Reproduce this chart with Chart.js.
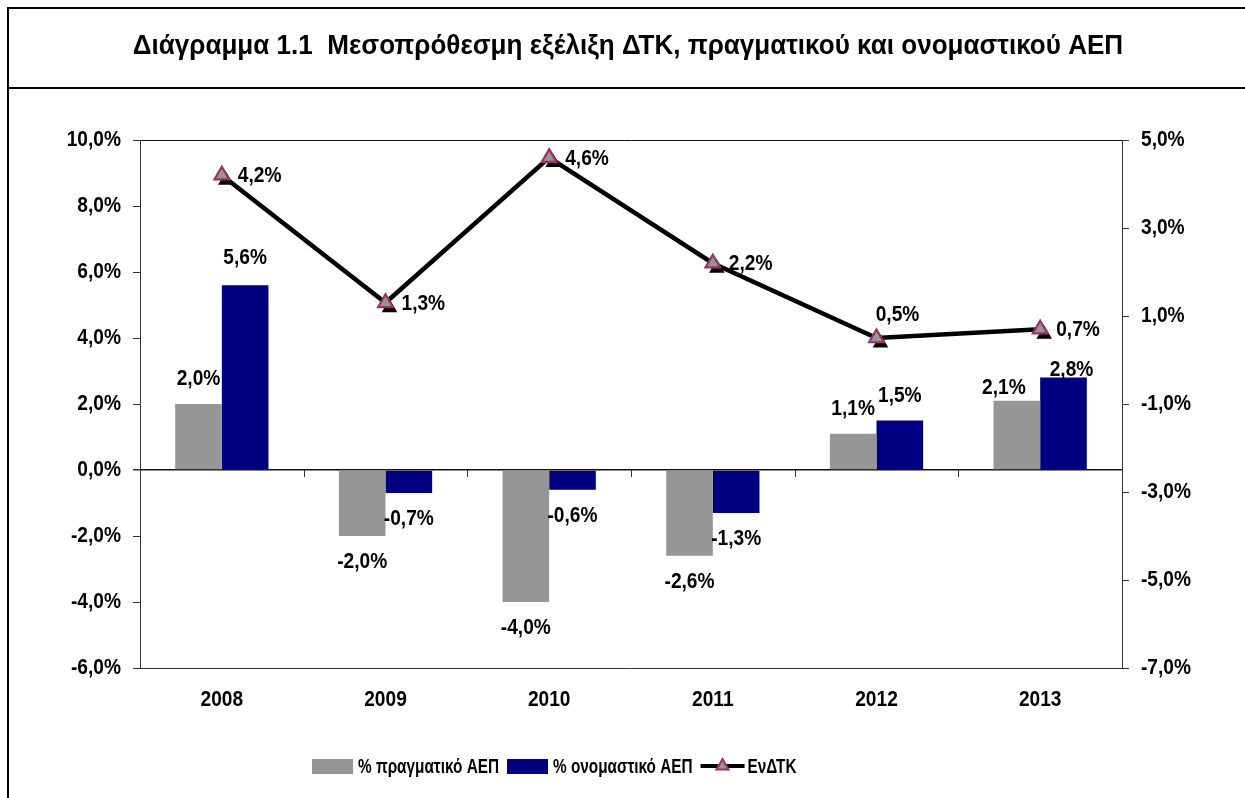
<!DOCTYPE html>
<html><head><meta charset="utf-8">
<script src="https://cdn.jsdelivr.net/npm/chart.js@4.4.1/dist/chart.umd.min.js"></script>
<style>
html,body{margin:0;padding:0;background:#fff;overflow:hidden}
#wrap{position:relative;width:1245px;height:798px}
canvas{position:absolute;left:0;top:0}
</style></head><body>
<div id="wrap"><canvas id="c" width="1245" height="798"></canvas></div>
<script>
// ---- data ----
const categories = ['2008', '2009', '2010', '2011', '2012', '2013'];
const realGDP = [2.0, -2.0, -4.0, -2.6, 1.1, 2.1];
const nominalGDP = [5.6, -0.7, -0.6, -1.3, 1.5, 2.8];
const hicp = [4.2, 1.3, 4.6, 2.2, 0.5, 0.7];
const leftTicks = [-6, -4, -2, 0, 2, 4, 6, 8, 10];
const rightTicks = [-7, -5, -3, -1, 1, 3, 5];
const seriesNames = ['% πραγματικό ΑΕΠ', '% ονομαστικό ΑΕΠ', 'ΕνΔΤΚ'];
const titleText = 'Διάγραμμα 1.1  Μεσοπρόθεσμη εξέλιξη ΔΤΚ, πραγματικού και ονομαστικού ΑΕΠ';

// ---- styles ----
const FAMILY = "'Liberation Sans','Arimo','DejaVu Sans Condensed',sans-serif";
const NARROW = 0.87;  // horizontal squeeze for axis / value text
const GRAY = '#969696', NAVY = '#000080', PURPLE = '#993366', AXIS = '#333333';
const fmt = v => v.toFixed(1).replace('.', ',') + '%';
// label nudges (style only): [dx, dy]
const realLabelNudge = [[0,0],[0,0],[0,0],[0,0],[0,0],[-13,12]];
const nomLabelNudge  = [[0,-2],[0,0],[0,0],[0,0],[0,0],[8,17]];
const lineLabelPlace = ['right','right','right','right','above','right'];

// condensed text rendering (emulates a narrow typeface)
(function () {
  const P = CanvasRenderingContext2D.prototype;
  const of = P.fillText, om = P.measureText;
  P.fillText = function (t, x, y, mw) {
    const s = this.__xs || NARROW;
    this.save();
    this.translate(x, y);
    this.scale(s, 1);
    of.call(this, t, 0, 0);
    this.restore();
  };
  P.measureText = function (t) {
    const m = om.call(this, t);
    const s = this.__xs || NARROW;
    return new Proxy(m, { get: (o, k) => k === 'width' ? o.width * s : (typeof o[k] === 'function' ? o[k].bind(o) : o[k]) });
  };
})();

function tri(ctx, x, y, r) {
  ctx.beginPath();
  for (let k = 0; k < 3; k++) {
    const a = k * 2 * Math.PI / 3;
    const px = x + Math.sin(a) * r, py = y - Math.cos(a) * r;
    if (k === 0) ctx.moveTo(px, py); else ctx.lineTo(px, py);
  }
  ctx.closePath();
}
function marker(ctx, x, y) {
  ctx.save();
  ctx.fillStyle = '#000';
  tri(ctx, x + 4, y + 5, 9); ctx.fill();
  ctx.fillStyle = GRAY; ctx.strokeStyle = PURPLE; ctx.lineWidth = 2.2;
  tri(ctx, x, y, 8.5); ctx.fill(); ctx.stroke();
  ctx.restore();
}

const decor = {
  id: 'decor',
  afterDatasetsDraw(chart) {
    const ctx = chart.ctx;
    const xs = chart.scales.x, ys = chart.scales.y;
    const y0 = ys.getPixelForValue(0);
    ctx.save();
    ctx.strokeStyle = AXIS; ctx.lineWidth = 1;
    const step = (xs.right - xs.left) / categories.length;
    for (let i = 0; i <= categories.length; i++) {
      const x = Math.round(xs.left + i * step) + 0.5;
      ctx.beginPath(); ctx.moveTo(x, y0); ctx.lineTo(x, y0 + 7); ctx.stroke();
    }
    const lm = chart.getDatasetMeta(0);
    lm.data.forEach(p => marker(ctx, p.x, p.y));
    ctx.font = `bold 22px ${FAMILY}`;
    ctx.fillStyle = '#000';
    ctx.textBaseline = 'middle';
    [[1, realGDP, realLabelNudge], [2, nominalGDP, nomLabelNudge]].forEach(([di, vals, nudge]) => {
      const meta = chart.getDatasetMeta(di);
      ctx.textAlign = 'center';
      meta.data.forEach((b, i) => {
        const v = vals[i];
        const yy = v >= 0 ? b.y - 25 : b.y + 26;
        ctx.fillText(fmt(v), b.x + nudge[i][0], yy + nudge[i][1]);
      });
    });
    lm.data.forEach((p, i) => {
      if (lineLabelPlace[i] === 'above') {
        ctx.textAlign = 'center';
        ctx.fillText(fmt(hicp[i]), p.x + 21, p.y - 23);
      } else {
        ctx.textAlign = 'left';
        ctx.fillText(fmt(hicp[i]), p.x + 16, p.y + 1);
      }
    });
    ctx.restore();
  },
  afterDraw(chart) {
    const ctx = chart.ctx;
    ctx.save();
    ctx.strokeStyle = '#000'; ctx.lineWidth = 2;
    ctx.beginPath();
    ctx.moveTo(8, 800); ctx.lineTo(8, 8); ctx.lineTo(1250, 8);
    ctx.moveTo(8, 88); ctx.lineTo(1250, 88);
    ctx.stroke();
    ctx.fillStyle = '#000';
    ctx.__xs = 0.965;
    ctx.font = `bold 27px ${FAMILY}`;
    ctx.textAlign = 'center'; ctx.textBaseline = 'middle';
    ctx.fillText(titleText, 628, 47);
    ctx.__xs = 0.73;
    ctx.font = `bold 21px ${FAMILY}`;
    ctx.textAlign = 'left';
    const ly = 767;
    let x = 312;
    ctx.fillStyle = GRAY; ctx.fillRect(x, 759, 41, 15);
    x += 46; ctx.fillStyle = '#000'; ctx.fillText(seriesNames[0], x, ly);
    x += ctx.measureText(seriesNames[0]).width + 8;
    ctx.fillStyle = NAVY; ctx.fillRect(x, 759, 41, 15);
    x += 46; ctx.fillStyle = '#000'; ctx.fillText(seriesNames[1], x, ly);
    x += ctx.measureText(seriesNames[1]).width + 8;
    ctx.strokeStyle = '#000'; ctx.lineWidth = 4;
    ctx.beginPath(); ctx.moveTo(x, ly - 1); ctx.lineTo(x + 44, ly - 1); ctx.stroke();
    ctx.fillStyle = GRAY; ctx.strokeStyle = PURPLE; ctx.lineWidth = 2;
    tri(ctx, x + 22, ly - 1, 7); ctx.fill(); ctx.stroke();
    x += 47; ctx.fillStyle = '#000'; ctx.fillText(seriesNames[2], x, ly);
    ctx.__xs = 0;
    ctx.restore();
  }
};

const tickFont = { family: FAMILY, size: 22, weight: 'bold' };

new Chart(document.getElementById('c'), {
  data: {
    labels: categories,
    datasets: [
      { type: 'line', label: seriesNames[2], data: hicp, yAxisID: 'y2', order: 0,
        borderColor: '#000', borderWidth: 4.5, pointRadius: 0, pointHoverRadius: 0, tension: 0 },
      { type: 'bar', label: seriesNames[0], data: realGDP, yAxisID: 'y', order: 1,
        backgroundColor: GRAY, borderWidth: 0, barPercentage: 1, categoryPercentage: 0.57 },
      { type: 'bar', label: seriesNames[1], data: nominalGDP, yAxisID: 'y', order: 2,
        backgroundColor: NAVY, borderWidth: 0, barPercentage: 1, categoryPercentage: 0.57 }
    ]
  },
  options: {
    responsive: false, animation: false,
    layout: { padding: { top: 140, left: 0, right: 0, bottom: 0 } },
    plugins: { legend: { display: false }, tooltip: { enabled: false }, title: { display: false } },
    scales: {
      x: {
        offset: true,
        grid: { display: false, drawTicks: false },
        border: { display: true, color: AXIS, width: 1 },
        ticks: { color: '#000', font: tickFont, padding: 19, maxRotation: 0 },
        afterFit: s => { s.height = 130; }
      },
      y: {
        position: 'left',
        min: leftTicks[0], max: leftTicks[leftTicks.length - 1],
        afterBuildTicks: s => { s.ticks = leftTicks.map(v => ({ value: v })); },
        grid: {
          color: c => (c.tick && (c.tick.value === 0 || c.tick.value === leftTicks[leftTicks.length - 1])) ? '#111' : 'rgba(0,0,0,0)',
          lineWidth: c => (c.tick && c.tick.value === 0) ? 1.5 : 1,
          tickColor: AXIS, tickLength: 7
        },
        border: { display: true, color: AXIS, width: 1 },
        ticks: { color: '#000', font: tickFont, padding: 12, callback: v => fmt(v) },
        afterFit: s => { s.width = 140; }
      },
      y2: {
        position: 'right',
        min: rightTicks[0], max: rightTicks[rightTicks.length - 1],
        afterBuildTicks: s => { s.ticks = rightTicks.map(v => ({ value: v })); },
        grid: { drawOnChartArea: false, tickColor: AXIS, tickLength: 7 },
        border: { display: true, color: AXIS, width: 1 },
        ticks: { color: '#000', font: tickFont, padding: 12, callback: v => fmt(v) },
        afterFit: s => { s.width = 123; }
      }
    }
  },
  plugins: [decor]
});
</script>
</body></html>
